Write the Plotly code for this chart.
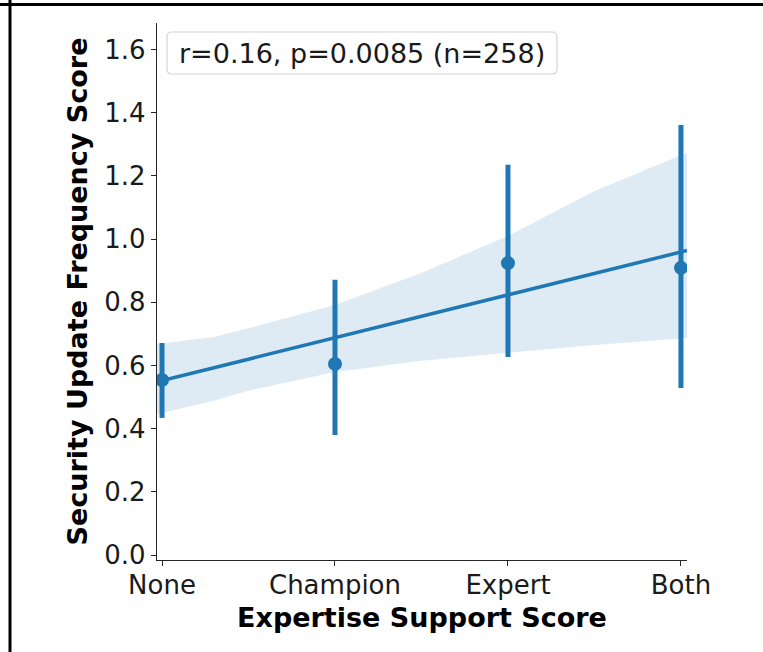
import plotly.graph_objects as go

# ---- data ----
categories = ["None", "Champion", "Expert", "Both"]
cat_pos = [0, 1, 2, 3]
means = [0.554, 0.605, 0.924, 0.909]
ci_low = [0.434, 0.380, 0.627, 0.529]
ci_high = [0.671, 0.871, 1.235, 1.361]

reg_intercept = 0.552
reg_slope = 0.1357

band_x = [-0.029, 0.3, 0.5, 1.0, 1.5, 2.0, 2.5, 3.035]
band_upper = [0.668, 0.690, 0.718, 0.791, 0.893, 1.010, 1.152, 1.273]
band_lower = [0.446, 0.488, 0.520, 0.579, 0.615, 0.640, 0.665, 0.687]

ytick_vals = [0.0, 0.2, 0.4, 0.6, 0.8, 1.0, 1.2, 1.4, 1.6]
stats_text = "r=0.16, p=0.0085 (n=258)"
x_title = "Expertise Support Score"
y_title = "Security Update Frequency Score"

BLUE = "#1f77b4"
FONT = "DejaVu Sans"

# ---- layout geometry (pixels) ----
W, H = 763, 652
ML, MR, MT, MB = 157, 76, 23, 92
PW, PH = W - ML - MR, H - MT - MB


def px_x(p):
    return (p - ML) / PW


def px_y(p):
    return (H - MB - p) / PH


fig = go.Figure()

# confidence band
fig.add_trace(go.Scatter(
    x=band_x + band_x[::-1],
    y=band_upper + band_lower[::-1],
    fill="toself", fillcolor="rgba(31,119,180,0.15)",
    line=dict(width=0), mode="lines",
    hoverinfo="skip", showlegend=False,
))

# regression line
reg_x = [band_x[0], band_x[-1]]
reg_y = [reg_intercept + reg_slope * v for v in reg_x]
fig.add_trace(go.Scatter(
    x=reg_x, y=reg_y, mode="lines",
    line=dict(color=BLUE, width=3.5), showlegend=False,
))

# point estimates with CI
fig.add_trace(go.Scatter(
    x=cat_pos, y=means, mode="markers",
    marker=dict(color=BLUE, size=14),
    error_y=dict(type="data", symmetric=False,
                 array=[h - m for h, m in zip(ci_high, means)],
                 arrayminus=[m - l for m, l in zip(means, ci_low)],
                 color=BLUE, thickness=5, width=0),
    showlegend=False,
))

axis_common = dict(
    showline=True, linecolor="#262626", linewidth=1.3,
    ticks="outside", ticklen=5, tickwidth=1.3, tickcolor="#262626",
    showgrid=False, zeroline=False,
    tickfont=dict(family=FONT, size=26, color="#1a1a1a"),
)

fig.update_layout(
    width=W, height=H,
    margin=dict(l=ML, r=MR, t=MT, b=MB, pad=0),
    paper_bgcolor="white", plot_bgcolor="white",
    font=dict(family=FONT),
    xaxis=dict(
        range=[-0.029, 3.035], tickvals=cat_pos, ticktext=categories,
        ticklabelstandoff=-3,
        title=dict(text="<b>" + x_title + "</b>", standoff=8,
                   font=dict(family=FONT, size=27, color="black")),
        **axis_common,
    ),
    yaxis=dict(
        range=[-0.0158, 1.684], tickvals=ytick_vals,
        tickformat=".1f",
        title=dict(text="<b>" + y_title + "</b>", standoff=8,
                   font=dict(family=FONT, size=27, color="black")),
        **axis_common,
    ),
)

# rounded legend-like box
x0, x1, y0, y1, r = 167, 557, 32, 74, 5
path = (
    f"M {px_x(x0 + r)} {px_y(y0)} L {px_x(x1 - r)} {px_y(y0)} "
    f"Q {px_x(x1)} {px_y(y0)} {px_x(x1)} {px_y(y0 + r)} "
    f"L {px_x(x1)} {px_y(y1 - r)} Q {px_x(x1)} {px_y(y1)} {px_x(x1 - r)} {px_y(y1)} "
    f"L {px_x(x0 + r)} {px_y(y1)} Q {px_x(x0)} {px_y(y1)} {px_x(x0)} {px_y(y1 - r)} "
    f"L {px_x(x0)} {px_y(y0 + r)} Q {px_x(x0)} {px_y(y0)} {px_x(x0 + r)} {px_y(y0)} Z"
)
fig.add_shape(type="path", path=path, xref="paper", yref="paper",
              line=dict(color="#d4d4d4", width=1.2),
              fillcolor="rgba(255,255,255,0.8)")
fig.add_annotation(
    x=px_x((x0 + x1) / 2), y=px_y((y0 + y1) / 2), xref="paper", yref="paper",
    text=stats_text, showarrow=False, xanchor="center", yanchor="middle",
    font=dict(family=FONT, size=27, color="#1a1a1a"),
)

# screenshot frame lines (top and left)
fig.add_shape(type="line", xref="paper", yref="paper",
              x0=px_x(0), x1=px_x(W), y0=px_y(4.5), y1=px_y(4.5),
              line=dict(color="black", width=3))
fig.add_shape(type="line", xref="paper", yref="paper",
              x0=px_x(10), x1=px_x(10), y0=px_y(0), y1=px_y(H),
              line=dict(color="black", width=3))

fig.write_html("out.html")
